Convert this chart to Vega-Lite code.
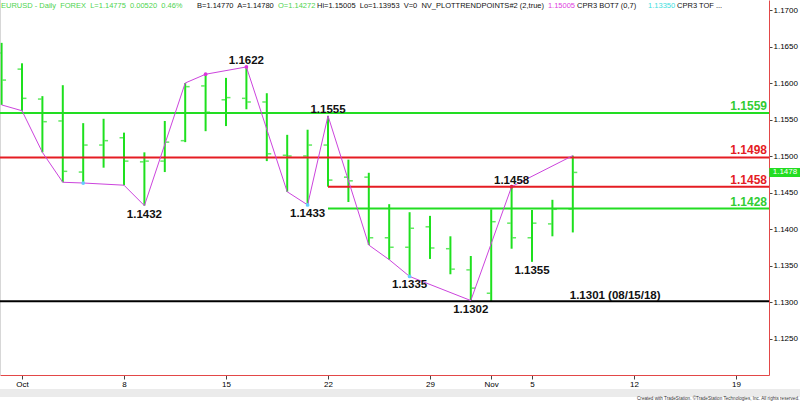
{
  "$schema": "https://vega.github.io/schema/vega-lite/v6.json",
  "width": 769,
  "height": 375,
  "autosize": {"type": "none"},
  "padding": {"left": 0, "top": 0, "right": 31, "bottom": 27},
  "background": "#ffffff",
  "config": {
    "view": {"stroke": null},
    "font": "Liberation Sans",
    "axis": {"title": null, "grid": false, "domainColor": "#e34848", "domainWidth": 1, "tickColor": "#444444", "labelFontSize": 8, "labelColor": "#000000", "labelPadding": 1, "labelFont": "Liberation Sans", "labelFlush": false, "labelOverlap": false},
    "axisX": {"orient": "bottom", "tickSize": 4},
    "axisY": {"orient": "right", "tickSize": 3}
  },
  "datasets": {
    "bars": [
      {"d": "2018-09-28", "i": 0, "o": 1.1641, "h": 1.1655, "l": 1.1570, "c": 1.1604},
      {"d": "2018-10-01", "i": 1, "o": 1.1619, "h": 1.1627, "l": 1.1562, "c": 1.1579},
      {"d": "2018-10-02", "i": 2, "o": 1.1578, "h": 1.1582, "l": 1.1505, "c": 1.1547},
      {"d": "2018-10-03", "i": 3, "o": 1.1548, "h": 1.1597, "l": 1.1464, "c": 1.1479},
      {"d": "2018-10-04", "i": 4, "o": 1.1478, "h": 1.1545, "l": 1.1463, "c": 1.1515},
      {"d": "2018-10-05", "i": 5, "o": 1.1515, "h": 1.1551, "l": 1.1484, "c": 1.1521},
      {"d": "2018-10-08", "i": 6, "o": 1.1525, "h": 1.1532, "l": 1.1460, "c": 1.1493},
      {"d": "2018-10-09", "i": 7, "o": 1.1492, "h": 1.1505, "l": 1.1432, "c": 1.1493},
      {"d": "2018-10-10", "i": 8, "o": 1.1493, "h": 1.1548, "l": 1.1478, "c": 1.1519},
      {"d": "2018-10-11", "i": 9, "o": 1.1521, "h": 1.1600, "l": 1.1519, "c": 1.1595},
      {"d": "2018-10-12", "i": 10, "o": 1.1596, "h": 1.1612, "l": 1.1534, "c": 1.1560},
      {"d": "2018-10-15", "i": 11, "o": 1.1577, "h": 1.1607, "l": 1.1541, "c": 1.1580},
      {"d": "2018-10-16", "i": 12, "o": 1.1579, "h": 1.1622, "l": 1.1564, "c": 1.1574},
      {"d": "2018-10-17", "i": 13, "o": 1.1574, "h": 1.1586, "l": 1.1493, "c": 1.1503},
      {"d": "2018-10-18", "i": 14, "o": 1.1501, "h": 1.1529, "l": 1.1451, "c": 1.1500},
      {"d": "2018-10-19", "i": 15, "o": 1.1500, "h": 1.1536, "l": 1.1433, "c": 1.1515},
      {"d": "2018-10-22", "i": 16, "o": 1.1515, "h": 1.1555, "l": 1.1458, "c": 1.1467},
      {"d": "2018-10-23", "i": 17, "o": 1.1471, "h": 1.1495, "l": 1.1437, "c": 1.1466},
      {"d": "2018-10-24", "i": 18, "o": 1.1471, "h": 1.1477, "l": 1.1378, "c": 1.1388},
      {"d": "2018-10-25", "i": 19, "o": 1.1388, "h": 1.1434, "l": 1.1358, "c": 1.1375},
      {"d": "2018-10-26", "i": 20, "o": 1.1375, "h": 1.1423, "l": 1.1335, "c": 1.1401},
      {"d": "2018-10-29", "i": 21, "o": 1.1403, "h": 1.1418, "l": 1.1359, "c": 1.1374},
      {"d": "2018-10-30", "i": 22, "o": 1.1373, "h": 1.1390, "l": 1.1338, "c": 1.1345},
      {"d": "2018-10-31", "i": 23, "o": 1.1344, "h": 1.1363, "l": 1.1302, "c": 1.1319},
      {"d": "2018-11-01", "i": 24, "o": 1.1312, "h": 1.1427, "l": 1.1301, "c": 1.1410},
      {"d": "2018-11-02", "i": 25, "o": 1.1408, "h": 1.1458, "l": 1.1373, "c": 1.1388},
      {"d": "2018-11-05", "i": 26, "o": 1.1388, "h": 1.1426, "l": 1.1355, "c": 1.1408},
      {"d": "2018-11-06", "i": 27, "o": 1.1407, "h": 1.1440, "l": 1.1390, "c": 1.1427},
      {"d": "2018-11-07", "i": 28, "o": 1.14272, "h": 1.15005, "l": 1.13953, "c": 1.14775}
    ],
    "levels": [
      {"v": 1.1559, "k": "sup", "s": -0.078, "lbl": "1.1559"},
      {"v": 1.1498, "k": "res", "s": -0.078, "lbl": "1.1498"},
      {"v": 1.1458, "k": "res", "s": 16, "lbl": "1.1458"},
      {"v": 1.1428, "k": "sup", "s": 16, "lbl": "1.1428"},
      {"v": 1.1301, "k": "hist", "s": -0.078, "lbl": "1.1301 (08/15/18)"}
    ],
    "trend": [
      {"i": 0, "v": 1.1570}, {"i": 1, "v": 1.1562}, {"i": 2, "v": 1.1505},
      {"i": 3, "v": 1.1464}, {"i": 4, "v": 1.1463}, {"i": 6, "v": 1.1460},
      {"i": 7, "v": 1.1432}, {"i": 9, "v": 1.1600}, {"i": 10, "v": 1.1612},
      {"i": 12, "v": 1.1622}, {"i": 14, "v": 1.1451}, {"i": 15, "v": 1.1433},
      {"i": 16, "v": 1.1555}, {"i": 18, "v": 1.1378}, {"i": 19, "v": 1.1358},
      {"i": 20, "v": 1.1335}, {"i": 23, "v": 1.1302}, {"i": 25, "v": 1.1458},
      {"i": 28, "v": 1.15005}
    ],
    "dots": [
      {"i": 4, "v": 1.1463, "k": "low"}, {"i": 15, "v": 1.1433, "k": "low"},
      {"i": 20, "v": 1.1335, "k": "low"}, {"i": 10, "v": 1.1612, "k": "high"},
      {"i": 12, "v": 1.1622, "k": "high"}, {"i": 25, "v": 1.1458, "k": "last"}
    ],
    "pivots": [
      {"i": 12, "v": 1.1622, "side": "high"}, {"i": 16, "v": 1.1555, "side": "high"},
      {"i": 25, "v": 1.1458, "side": "high"}, {"i": 7, "v": 1.1432, "side": "low"},
      {"i": 15, "v": 1.1433, "side": "low"}, {"i": 20, "v": 1.1335, "side": "low"},
      {"i": 23, "v": 1.1302, "side": "low"}, {"i": 26, "v": 1.1355, "side": "low"}
    ],
    "header": [
      {"t": "EURUSD - Daily\u00a0 FOREX\u00a0 L=1.14775\u00a0 0.00520\u00a0 0.46%", "k": "g", "p": -0.03},
      {"t": "B=1.14770\u00a0 A=1.14780", "k": "b", "p": 9.58},
      {"t": "O=1.14272", "k": "g", "p": 13.55},
      {"t": "Hi=1.15005\u00a0 Lo=1.13953\u00a0 V=0\u00a0 NV_PLOTTRENDPOINTS#2 (2,true)", "k": "b", "p": 15.46},
      {"t": "1.15005", "k": "m", "p": 26.78},
      {"t": "CPR3 BOT7 (0,7)", "k": "b", "p": 28.21},
      {"t": "1.13350", "k": "c", "p": 31.69},
      {"t": "CPR3 TOF ...", "k": "b", "p": 33.11}
    ]
  },
  "resolve": {"scale": {"color": "independent"}},
  "layer": [
    {
      "data": {"name": "bars"},
      "mark": {"type": "rule", "color": "#1ee01e", "strokeWidth": 2},
      "encoding": {
        "x": {"field": "i", "type": "quantitative", "scale": {"domain": [-0.078, 37.617], "nice": false, "zero": false},
          "axis": {"title": null, "values": [1, 6, 11, 16, 21, 24, 26, 31, 36],
            "labelExpr": "datum.value == 1 ? 'Oct' : datum.value == 24 ? 'Nov' : datum.value == 6 ? '8' : datum.value == 11 ? '15' : datum.value == 16 ? '22' : datum.value == 21 ? '29' : datum.value == 26 ? '5' : datum.value == 31 ? '12' : '19'"}},
        "y": {"field": "h", "type": "quantitative", "scale": {"domain": [1.12, 1.17137], "nice": false, "zero": false},
          "axis": {"title": null, "values": [1.125, 1.13, 1.135, 1.14, 1.145, 1.15, 1.155, 1.16, 1.165, 1.17], "format": ".4f"}},
        "y2": {"field": "l"}
      }
    },
    {
      "data": {"values": [{}]},
      "mark": {"type": "rect", "color": "#ebebeb"},
      "encoding": {
        "x": {"datum": -0.078, "type": "quantitative", "scale": {"domain": [-0.078, 37.617], "nice": false, "zero": false}},
        "x2": {"datum": 39.2},
        "y": {"datum": 1.11808, "type": "quantitative", "scale": {"domain": [1.12, 1.17137], "nice": false, "zero": false}},
        "y2": {"datum": 1.11699}
      }
    },
    {
      "data": {"values": [{}]},
      "mark": {"type": "rule", "color": "#b0b0b0", "strokeWidth": 1},
      "encoding": {
        "x": {"datum": -0.078, "type": "quantitative", "scale": {"domain": [-0.078, 37.617], "nice": false, "zero": false}}
      }
    },
    {
      "data": {"name": "bars"},
      "mark": {"type": "tick", "orient": "horizontal", "color": "#1ee01e", "size": 3.5, "thickness": 1.5, "xOffset": -2.7},
      "encoding": {
        "x": {"field": "i", "type": "quantitative", "scale": {"domain": [-0.078, 37.617], "nice": false, "zero": false}},
        "y": {"field": "o", "type": "quantitative", "scale": {"domain": [1.12, 1.17137], "nice": false, "zero": false}}
      }
    },
    {
      "data": {"name": "bars"},
      "mark": {"type": "tick", "orient": "horizontal", "color": "#1ee01e", "size": 3.5, "thickness": 1.5, "xOffset": 2.7},
      "encoding": {
        "x": {"field": "i", "type": "quantitative", "scale": {"domain": [-0.078, 37.617], "nice": false, "zero": false}},
        "y": {"field": "c", "type": "quantitative", "scale": {"domain": [1.12, 1.17137], "nice": false, "zero": false}}
      }
    },
    {
      "data": {"name": "levels"},
      "mark": {"type": "rule", "strokeWidth": 2},
      "encoding": {
        "x": {"field": "s", "type": "quantitative", "scale": {"domain": [-0.078, 37.617], "nice": false, "zero": false}},
        "x2": {"datum": 37.617},
        "y": {"field": "v", "type": "quantitative", "scale": {"domain": [1.12, 1.17137], "nice": false, "zero": false}},
        "color": {"field": "k", "type": "nominal", "scale": {"domain": ["sup", "res", "hist"], "range": ["#22dd22", "#e51c23", "#000000"]}, "legend": null}
      }
    },
    {
      "data": {"name": "trend"},
      "mark": {"type": "line", "color": "#cc44dd", "strokeWidth": 1},
      "encoding": {
        "x": {"field": "i", "type": "quantitative", "scale": {"domain": [-0.078, 37.617], "nice": false, "zero": false}},
        "y": {"field": "v", "type": "quantitative", "scale": {"domain": [1.12, 1.17137], "nice": false, "zero": false}}
      }
    },
    {
      "data": {"name": "dots"},
      "mark": {"type": "circle", "size": 14, "opacity": 1},
      "encoding": {
        "x": {"field": "i", "type": "quantitative", "scale": {"domain": [-0.078, 37.617], "nice": false, "zero": false}},
        "y": {"field": "v", "type": "quantitative", "scale": {"domain": [1.12, 1.17137], "nice": false, "zero": false}},
        "color": {"field": "k", "type": "nominal", "scale": {"domain": ["low", "high", "last"], "range": ["#66ccff", "#dd33dd", "#e02040"]}, "legend": null}
      }
    },
    {
      "data": {"name": "pivots"},
      "transform": [{"filter": "datum.side == 'high'"}],
      "mark": {"type": "text", "fontSize": 11.5, "fontWeight": "bold", "color": "#111111", "align": "center", "baseline": "alphabetic", "dy": -3},
      "encoding": {
        "x": {"field": "i", "type": "quantitative", "scale": {"domain": [-0.078, 37.617], "nice": false, "zero": false}},
        "y": {"field": "v", "type": "quantitative", "scale": {"domain": [1.12, 1.17137], "nice": false, "zero": false}},
        "text": {"field": "v", "type": "quantitative", "format": ".4f"}
      }
    },
    {
      "data": {"name": "pivots"},
      "transform": [{"filter": "datum.side == 'low'"}],
      "mark": {"type": "text", "fontSize": 11.5, "fontWeight": "bold", "color": "#111111", "align": "center", "baseline": "top", "dy": 3},
      "encoding": {
        "x": {"field": "i", "type": "quantitative", "scale": {"domain": [-0.078, 37.617], "nice": false, "zero": false}},
        "y": {"field": "v", "type": "quantitative", "scale": {"domain": [1.12, 1.17137], "nice": false, "zero": false}},
        "text": {"field": "v", "type": "quantitative", "format": ".4f"}
      }
    },
    {
      "data": {"name": "levels"},
      "transform": [{"filter": "datum.k != 'hist'"}],
      "mark": {"type": "text", "fontSize": 12, "fontWeight": "bold", "align": "right", "baseline": "alphabetic", "dx": -2, "dy": -3},
      "encoding": {
        "x": {"datum": 37.617, "type": "quantitative", "scale": {"domain": [-0.078, 37.617], "nice": false, "zero": false}},
        "y": {"field": "v", "type": "quantitative", "scale": {"domain": [1.12, 1.17137], "nice": false, "zero": false}},
        "text": {"field": "lbl"},
        "color": {"field": "k", "type": "nominal", "scale": {"domain": ["sup", "res"], "range": ["#33cc33", "#e51c23"]}, "legend": null}
      }
    },
    {
      "data": {"name": "levels"},
      "transform": [{"filter": "datum.k == 'hist'"}],
      "mark": {"type": "text", "fontSize": 11.5, "fontWeight": "bold", "color": "#111111", "align": "left", "baseline": "alphabetic", "dy": -2},
      "encoding": {
        "x": {"datum": 27.85, "type": "quantitative", "scale": {"domain": [-0.078, 37.617], "nice": false, "zero": false}},
        "y": {"field": "v", "type": "quantitative", "scale": {"domain": [1.12, 1.17137], "nice": false, "zero": false}},
        "text": {"field": "lbl"}
      }
    },
    {
      "data": {"name": "header"},
      "mark": {"type": "text", "fontSize": 7.5, "align": "left", "baseline": "middle", "font": "Liberation Sans"},
      "encoding": {
        "x": {"field": "p", "type": "quantitative", "scale": {"domain": [-0.078, 37.617], "nice": false, "zero": false}},
        "y": {"datum": 1.17048, "type": "quantitative", "scale": {"domain": [1.12, 1.17137], "nice": false, "zero": false}},
        "text": {"field": "t"},
        "color": {"field": "k", "type": "nominal", "scale": {"domain": ["g", "b", "m", "c"], "range": ["#4fd34f", "#111111", "#e040e0", "#40dede"]}, "legend": null}
      }
    },
    {
      "data": {"values": [{}]},
      "mark": {"type": "rect", "color": "#22dd22"},
      "encoding": {
        "x": {"datum": 37.63, "type": "quantitative", "scale": {"domain": [-0.078, 37.617], "nice": false, "zero": false}},
        "x2": {"datum": 39.2},
        "y": {"datum": 1.14837, "type": "quantitative", "scale": {"domain": [1.12, 1.17137], "nice": false, "zero": false}},
        "y2": {"datum": 1.14713}
      }
    },
    {
      "data": {"values": [{}]},
      "mark": {"type": "text", "fontSize": 8, "align": "left", "baseline": "middle", "color": "#ffffff"},
      "encoding": {
        "x": {"datum": 37.8, "type": "quantitative", "scale": {"domain": [-0.078, 37.617], "nice": false, "zero": false}},
        "y": {"datum": 1.14775, "type": "quantitative", "scale": {"domain": [1.12, 1.17137], "nice": false, "zero": false}},
        "text": {"value": "1.1478"}
      }
    },
    {
      "data": {"values": [{}]},
      "mark": {"type": "text", "fontSize": 4.6, "align": "right", "baseline": "middle", "color": "#333333"},
      "encoding": {
        "x": {"datum": 39.1, "type": "quantitative", "scale": {"domain": [-0.078, 37.617], "nice": false, "zero": false}},
        "y": {"datum": 1.11671, "type": "quantitative", "scale": {"domain": [1.12, 1.17137], "nice": false, "zero": false}},
        "text": {"value": "Created with TradeStation. ©TradeStation Technologies, Inc. All rights reserved."}
      }
    }
  ]
}
